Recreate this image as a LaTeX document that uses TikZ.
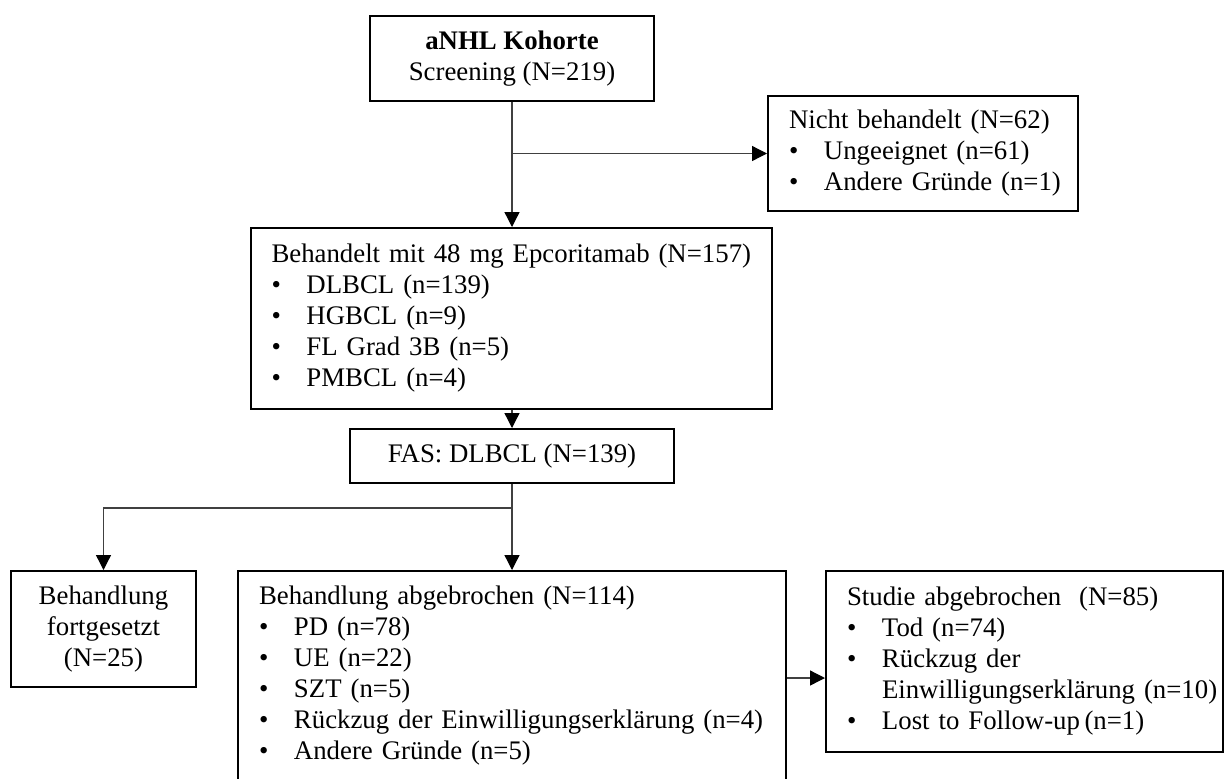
\documentclass[tikz,border=0pt]{standalone}
\usepackage{fontspec}
\setmainfont{Liberation Serif}
\usetikzlibrary{arrows.meta}
\newcommand\bitem[1]{\mbox{\makebox[17.5pt][l]{\textbullet}#1}}
\tikzset{
  basebox/.style={draw=black, line width=1pt, inner sep=0pt, font=\fontsize{13.4}{15.5}\selectfont},
  cbox/.style={basebox, align=center},
  lbox/.style={basebox, align=left, inner xsep=10.5pt},
  conn/.style={draw=black!75, line width=0.65pt},
  arr/.style={conn, -{Triangle[length=7.5pt,width=7.5pt,color=black]}}
}
\begin{document}
\begin{tikzpicture}[x=0.5pt,y=-0.5pt]
\useasboundingbox (0,0) rectangle (1226,778);
\clip (0,0) rectangle (1226,778);
\fill[white] (0,0) rectangle (1226,778);

\node[cbox, minimum width=142pt, minimum height=42.5pt] (top) at (512,58.5)
  {\textbf{aNHL Kohorte}\\Screening (N=219)};

\node[lbox, text width=134pt, minimum height=57.5pt] (nb) at (923,153.5)
  {Nicht behandelt (N=62)\\\bitem{Ungeeignet (n=61)}\\\bitem{Andere Gründe (n=1)}};

\node[lbox, text width=239.5pt, minimum height=90.5pt] (beh) at (511,318.5)
  {\mbox{Behandelt mit 48 mg Epcoritamab (N=157)}\\
   \bitem{DLBCL (n=139)}\\
   \bitem{HGBCL (n=9)}\\
   \bitem{FL Grad 3B (n=5)}\\
   \bitem{PMBCL (n=4)}};

\node[cbox, minimum width=162pt, minimum height=27pt] (fas) at (512,456)
  {FAS: DLBCL (N=139)};

\node[cbox, minimum width=92.5pt, minimum height=58pt] (fort) at (103.5,629)
  {Behandlung\\fortgesetzt\\(N=25)};

\node[lbox, text width=253pt, minimum height=110.5pt] (abg) at (512,681.5)
  {\mbox{Behandlung abgebrochen (N=114)}\\
   \bitem{PD (n=78)}\\
   \bitem{UE (n=22)}\\
   \bitem{SZT (n=5)}\\
   \bitem{Rückzug der Einwilligungserklärung (n=4)}\\
   \bitem{Andere Gründe (n=5)}\rule[-9pt]{0pt}{0pt}};

\node[lbox, text width=177.5pt, minimum height=90.5pt] (stu) at (1024.5,661.5)
  {\mbox{Studie abgebrochen\ \ (N=85)}\\
   \bitem{Tod (n=74)}\\
   \bitem{Rückzug der}\\
   \mbox{\hspace*{17.5pt}Einwilligungserklärung (n=10)}\\
   \bitem{Lost to Follow-up\,(n=1)}};

\draw[arr] (top.south) -- (top.south |- beh.north);
\draw[arr] (top.south |- nb.west) -- (nb.west);
\draw[arr] (fas.north |- beh.south) -- (fas.north);
\draw[arr] (fas.south) -- (fas.south |- abg.north);
\coordinate (j) at (512,508);
\draw[arr] (j) -| (fort.north);
\coordinate (k) at (806,678);
\draw[arr] (abg.east |- k) -- (stu.west |- k);
\end{tikzpicture}
\end{document}
